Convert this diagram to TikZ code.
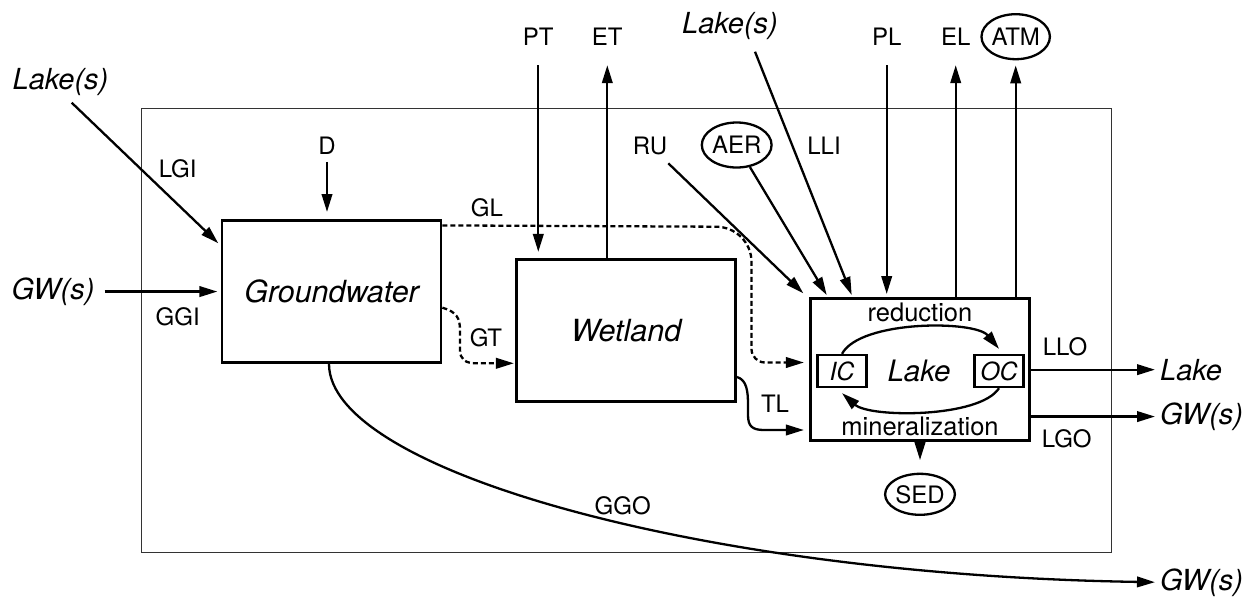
\documentclass[tikz,border=0pt]{standalone}
\usepackage{fontspec}
\setmainfont{TeX Gyre Heros}
\usetikzlibrary{arrows.meta,shapes.geometric}
\begin{document}
\begin{tikzpicture}[x=1pt,y=-1pt,
  lab/.style={font=\fontsize{24}{28}\selectfont, inner sep=0pt, anchor=base},
  proc/.style={font=\fontsize{25.5}{30}\selectfont, inner sep=0pt, anchor=base},
  big/.style={font=\fontsize{29}{34}\selectfont\itshape, inner sep=0pt, anchor=base},
  boxname/.style={font=\fontsize{30.5}{36}\selectfont\itshape},
  box/.style={draw, line width=2.6pt, minimum width=219pt, minimum height=142pt, inner sep=0pt},
  smallbox/.style={draw, line width=2.3pt, minimum width=49pt, minimum height=32pt, inner sep=0pt, font=\fontsize{25}{30}\selectfont\itshape},
  arr/.style={line width=2.3pt, -{Triangle[length=18pt,width=10.5pt]}},
  dsh/.style={arr, dash pattern=on 5pt off 3pt},
  circ/.style={draw, ellipse, line width=2.3pt, inner sep=0pt, minimum width=65pt, minimum height=45pt, font=\fontsize{24}{28}\selectfont},
  frame/.style={draw=black!80, line width=1.5pt, minimum width=970pt, minimum height=444.4pt, inner sep=0pt}
]
\useasboundingbox (0,0) rectangle (1252,598);

% system boundary
\node[frame] (fr) at (626.7,330.5) {};

% main compartments
\node[box, boxname] (gw) at (331.6,291.7) {Groundwater};
\node[box, boxname] (wet) at (626.2,330.5) {Wetland};
\node[box] (lake) at (920.2,369.6) {};

% lake interior
\node[proc] (red) at (920,321.7) {reduction};
\node[proc] (min) at (920,435.7) {mineralization};
\node[big, font=\fontsize{29.5}{34}\selectfont\itshape] (lk) at (919,381) {Lake};
\node[smallbox] (ic) at (842,371) {IC};
\node[smallbox] (oc) at (999,371) {OC};

% external text
\node[big] (lakeTL) at (60.5,89.3) {Lake(s)};
\node[big] (gwL) at (53,299.3) {GW(s)};
\node[big] (lakeT) at (730,33.3) {Lake(s)};
\node[big, anchor=base west] (lakeR) at (1160,380) {Lake};
\node[big, anchor=base west] (gwR) at (1160,424.3) {GW(s)};
\node[big, anchor=base west] (gwB) at (1160,590) {GW(s)};

% flux labels
\node[lab] (lgi) at (177.7,177.3) {LGI};
\node[lab] (dl) at (327,154) {D};
\node[lab] (ggi) at (177.7,325) {GGI};
\node[lab] (gl) at (487,216) {GL};
\node[lab] (pt) at (538.3,45.7) {PT};
\node[lab] (et) at (607.3,45.7) {ET};
\node[lab] (pl) at (886.7,45.7) {PL};
\node[lab] (el) at (955.7,45.7) {EL};
\node[lab] (ru) at (650,154) {RU};
\node[lab] (lli) at (824,154) {LLI};
\node[lab] (gt) at (486,346.7) {GT};
\node[lab] (tl) at (775,412.5) {TL};
\node[lab] (ggo) at (622.7,514) {GGO};
\node[lab] (llo) at (1065,355) {LLO};
\node[lab] (lgo) at (1066.7,447) {LGO};

% pools
\node[circ] (atm) at (1015.7,36.7) {ATM};
\node[circ] (aer) at (736.7,145) {AER};
\node[circ, minimum height=41pt] (sed) at (920,494.3) {SED};

% free ends
\coordinate (lgiS) at (71.7,102.7);
\coordinate (lgiT) at (218.3,243.3);
\coordinate (lliS) at (755,51.7);
\coordinate (lliT) at (851.7,295);
\coordinate (ruS) at (668.3,163.3);
\coordinate (ruT) at (803.3,293.3);
\coordinate (aerT) at (826.7,295);

% connectors
\draw[arr] (lgiS) -- (lgiT);
\draw[arr, shorten <=7.7pt, shorten >=7.4pt] (dl.south) -- (dl.south |- gw.north);
\draw[arr, shorten <=10pt, shorten >=3.4pt] (gwL.east) -- (gwL.east -| gw.west);

\draw[dsh] ([yshift=-6pt]gw.north east) -- (716,226.7) to[out=0,in=90] (751.5,262)
  -- (751.5,349) to[out=-90,in=180] (765,362.5) -- ([xshift=-5.5pt]lake.west |- 0,362.5);
\draw[dsh] ([yshift=-16pt]gw.east) .. controls +(14,4) and (460,318) .. (460,330)
  -- (460,350) .. controls (460,359) and (465,363.3) .. (476,363.3) -- ([xshift=-1.5pt]wet.west |- 0,363.3);

\draw[arr, shorten <=19.3pt, shorten >=6.3pt] (pt.south) -- (pt.south |- wet.north);
\draw[arr, shorten >=19.3pt] (et.south |- wet.north) -- (et.south);
\draw[arr, shorten <=19.3pt, shorten >=3.3pt] (pl.south) -- (pl.south |- lake.north);
\draw[arr, shorten >=19.3pt] (el.south |- lake.north) -- (el.south);
\draw[arr, shorten >=5pt] (atm.south |- lake.north) -- (atm.south);

\draw[arr] (lliS) -- (lliT);
\draw[arr] (ruS) -- (ruT);
\draw[arr] (aer) -- (aerT);

\draw[arr] ([yshift=-46.5pt]wet.east) .. controls +(10,3) and (748,392) .. (748,405)
  -- (748,415) .. controls (748,426) and (752,430) .. (764,430) -- ([xshift=-5.5pt]lake.west |- 0,430);

\draw[arr, shorten >=12.5pt] (sed.north |- lake.south) -- (sed.north);
\draw[arr, shorten >=5pt] (lake.east |- lakeR.west) -- (lakeR.west);
\draw[arr, shorten >=5pt] (lake.east |- gwR.west) -- (gwR.west);

\draw[arr] (ic.north) .. controls (860,320) and (975,320) .. ([yshift=5pt]oc.north);
\draw[arr] (oc.south) .. controls (980,418) and (870,418) .. ([yshift=-5pt]ic.south);

\draw[arr, shorten >=5pt] ([xshift=-2.6pt]gw.south) .. controls (329,470) and (700,575) .. (gwB.west);
\end{tikzpicture}
\end{document}
